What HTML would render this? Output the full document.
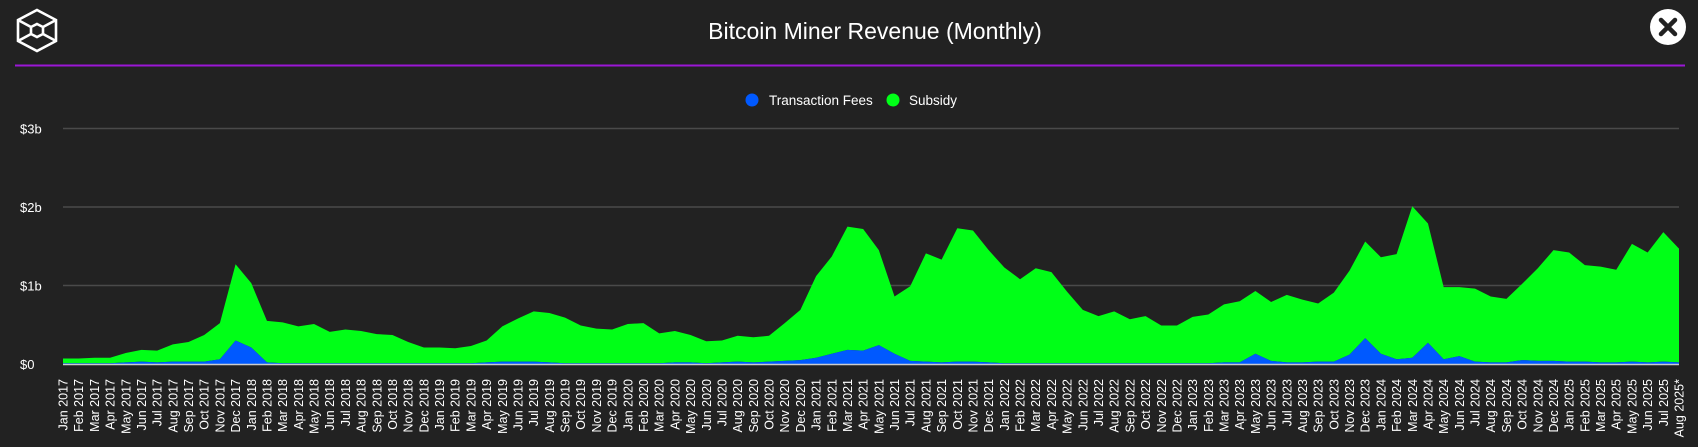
<!DOCTYPE html>
<html><head><meta charset="utf-8"><style>
html,body{margin:0;padding:0;background:#222222;width:1698px;height:447px;overflow:hidden}
svg text{font-family:"Liberation Sans",sans-serif}
</style></head><body>
<svg id="chart" width="1698" height="447" xmlns="http://www.w3.org/2000/svg">
<rect width="1698" height="447" fill="#222222"/>
<g stroke="#fff" stroke-width="2.6" fill="none">
<polygon points="37,10 56,20 56,41 37,51 18,41 18,20"/>
<polygon points="37,24 43,27 43,34 37,37 31,34 31,27"/>
<line x1="18" y1="20" x2="31" y2="27"/><line x1="56" y1="20" x2="43" y2="27"/>
<line x1="18" y1="41" x2="31" y2="34"/><line x1="56" y1="41" x2="43" y2="34"/>
</g>
<text x="875" y="39" text-anchor="middle" fill="#fff" font-size="23">Bitcoin Miner Revenue (Monthly)</text>
<g>
<circle cx="1668" cy="27" r="18" fill="#fff"/>
<path d="M1661,20 L1675,34 M1675,20 L1661,34" stroke="#222" stroke-width="4.5" stroke-linecap="round"/>
</g>
<line x1="15" y1="65.5" x2="1685" y2="65.5" stroke="#9b17d6" stroke-width="2"/>
<g>
<g><circle cx="752" cy="100" r="6.5" fill="#0059ff"/><text x="769" y="105" fill="#fff" font-size="13.5">Transaction Fees</text></g>
<g><circle cx="893" cy="100" r="6.5" fill="#00ff17"/><text x="909" y="105" fill="#fff" font-size="13.5">Subsidy</text></g>
</g>
<g id="grid"></g><g id="areas"></g><g id="xlabels"></g>
</svg>
<script>
const months=["Jan","Feb","Mar","Apr","May","Jun","Jul","Aug","Sep","Oct","Nov","Dec"];
const categories=[];
for(let y=2017;y<=2025;y++)for(let m=0;m<12;m++){if(y===2025&&m>7)break;categories.push(months[m]+" "+y+(y===2025&&m===7?"*":""));}
const fees=[0.01,0.01,0.01,0.01,0.02,0.03,0.02,0.03,0.03,0.03,0.06,0.30,
0.21,0.02,0.01,0.01,0.01,0.01,0.01,0.01,0.01,0.01,0.01,0.01,
0.01,0.01,0.01,0.02,0.03,0.03,0.03,0.02,0.01,0.01,0.01,0.01,
0.01,0.01,0.01,0.02,0.02,0.01,0.02,0.03,0.02,0.03,0.04,0.05,
0.08,0.13,0.18,0.17,0.24,0.13,0.04,0.03,0.02,0.03,0.03,0.02,
0.01,0.01,0.01,0.01,0.01,0.01,0.01,0.01,0.01,0.01,0.01,0.01,
0.01,0.01,0.02,0.02,0.13,0.04,0.02,0.02,0.03,0.03,0.12,0.33,
0.13,0.06,0.08,0.27,0.06,0.10,0.03,0.02,0.02,0.05,0.04,0.04,
0.03,0.03,0.02,0.02,0.03,0.02,0.03,0.02];
const totals=[0.07,0.07,0.08,0.08,0.14,0.18,0.17,0.25,0.28,0.37,0.52,1.27,
1.03,0.55,0.53,0.48,0.51,0.41,0.44,0.42,0.38,0.37,0.28,0.21,
0.21,0.20,0.23,0.30,0.48,0.58,0.67,0.65,0.59,0.49,0.45,0.44,
0.51,0.52,0.39,0.42,0.37,0.29,0.30,0.36,0.34,0.36,0.52,0.69,
1.12,1.37,1.75,1.72,1.45,0.86,0.99,1.41,1.33,1.73,1.70,1.45,
1.23,1.08,1.22,1.17,0.92,0.69,0.61,0.67,0.57,0.61,0.49,0.49,
0.60,0.63,0.76,0.80,0.93,0.79,0.88,0.82,0.77,0.91,1.19,1.56,
1.36,1.40,2.01,1.79,0.98,0.98,0.96,0.86,0.83,1.02,1.22,1.45,
1.42,1.26,1.24,1.20,1.53,1.42,1.68,1.47];
const subsidy=totals.map((t,i)=>+(t-fees[i]).toFixed(3));
const yTicks=[0,1,2,3];
const yTickLabels=["$0","$1b","$2b","$3b"];
const X0=63,X1=1679,Y0=364,PERB=78.5;
const xs=i=>X0+(X1-X0)*i/(categories.length-1);
const ys=v=>Y0-v*PERB;
const NS="http://www.w3.org/2000/svg";
function mk(tag,attrs,parent){const e=document.createElementNS(NS,tag);for(const k in attrs)e.setAttribute(k,attrs[k]);parent.appendChild(e);return e;}
const grid=document.getElementById("grid");
yTicks.forEach((t,i)=>{
  if(t>0){const l=mk("line",{x1:X0,x2:X1,y1:ys(t),y2:ys(t),stroke:"#4a4a4a","stroke-width":1.5},grid);
  
  }
  const tx=mk("text",{x:20,y:ys(t)+5,fill:"#fff","font-size":13},grid);tx.textContent=yTickLabels[i];
  
  
});
const areas=document.getElementById("areas");
const topPts=[],botPts=[];
categories.forEach((c,i)=>{botPts.push(xs(i)+","+ys(fees[i]));topPts.push(xs(i)+","+ys(fees[i]+subsidy[i]));});
const sub=mk("polygon",{points:topPts.join(" ")+" "+botPts.slice().reverse().join(" "),fill:"#00ff17"},areas);


const fa=mk("polygon",{points:botPts.join(" ")+" "+xs(categories.length-1)+","+Y0+" "+X0+","+Y0,fill:"#0059ff"},areas);


const base=mk("line",{x1:X0,x2:X1,y1:Y0+0.5,y2:Y0+0.5,stroke:"#cccccc","stroke-width":1.5},areas);


const xl=document.getElementById("xlabels");
categories.forEach((c,i)=>{
  const x=xs(i)+4.5,y=379;
  const t=mk("text",{x:x,y:y,transform:"rotate(-90 "+x+" "+y+")","text-anchor":"end",fill:"#fff","font-size":12.5},xl);
  t.textContent=c;
  
  
});
</script>
</body></html>
